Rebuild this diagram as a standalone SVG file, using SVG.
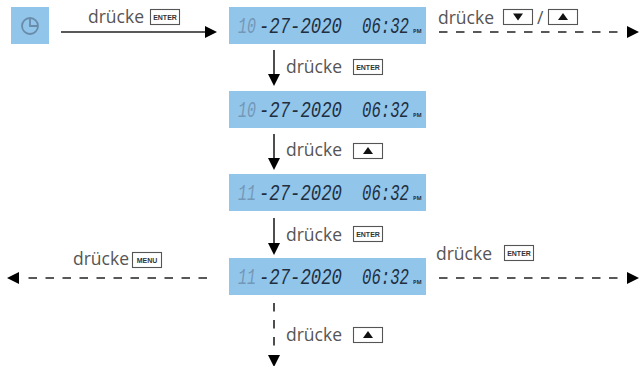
<svg xmlns="http://www.w3.org/2000/svg" width="639" height="366" viewBox="0 0 639 366">
<style>
text{font-family:"Open Sans","Noto Sans","Liberation Sans",sans-serif}
.lab{font-size:17.5px;fill:#555}
.k{fill:#fff;stroke:#555;stroke-width:1.1}
.kt{font-family:"Liberation Sans",sans-serif;font-size:7px;font-weight:700;fill:#333;text-anchor:middle}
.tri{fill:#111}
.lcd{fill:#92c5ea}
.d,.f{font-family:"Liberation Mono",monospace;font-size:22px;font-style:italic}
.d{fill:#1f2f3f}
.f{fill:#7397b6}
.pm{font-size:5.500px;font-weight:700;fill:#1f2f3f}
.s{fill:none;stroke:#222;stroke-width:1.6}
.da{stroke-dasharray:8.5 8.5}
.h{fill:#000}
</style>
<defs>
<g id="enter"><rect class="k" x="0.5" y="0.5" width="29" height="15"/><text class="kt" x="15" y="10.500">ENTER</text></g>
<g id="up"><rect class="k" x="0.5" y="0.5" width="29" height="15"/><path class="tri" d="M15 4L20 11H10Z"/></g>
<g id="down"><rect class="k" x="0.5" y="0.5" width="29" height="15"/><path class="tri" d="M15 11.500L20 4.500H10Z"/></g>
</defs>
<g id="connectors">
<path class="s" d="M61 32H206"/><path class="h" d="M205 26L217 32L205 38Z"/>
<path class="s da" d="M439 32H624"/><path class="h" d="M627 26L639 32L627 38Z"/>
<path class="s" d="M274 50V76"/><path class="h" d="M268 74L274 86L280 74Z"/>
<path class="s" d="M274 134V160"/><path class="h" d="M268 158L274 170L280 158Z"/>
<path class="s" d="M274 218V244"/><path class="h" d="M268 243L274 255L280 243Z"/>
<path class="s da" d="M274 303V350"/><path class="h" d="M268 355L274 367L280 355Z"/>
<path class="s da" d="M207 278H20"/><path class="h" d="M19 272L7 278L19 284Z"/>
<path class="s da" d="M439 278H624"/><path class="h" d="M627 272L639 278L627 284Z"/>
</g>
<g id="clock-node"><rect class="lcd" x="11" y="7" width="38" height="37"/><circle cx="30" cy="26" r="8" fill="none" stroke="#6a8cab" stroke-width="1.8"/><path d="M30 18V26H38" fill="none" stroke="#6a8cab" stroke-width="1.8"/></g>
<g id="lcd1"><rect class="lcd" x="229" y="7" width="197" height="37"/><text class="f" transform="translate(238 33) scale(.68 1)">10</text><text class="d" transform="translate(259 33) scale(.786 1)">-27-2020</text><text class="d" transform="translate(362 33) scale(.712 1)">06:32</text><text class="pm" x="413" y="33">PM</text></g>
<g id="lcd2"><rect class="lcd" x="229" y="91" width="197" height="37"/><text class="f" transform="translate(238 117) scale(.68 1)">10</text><text class="d" transform="translate(259 117) scale(.786 1)">-27-2020</text><text class="d" transform="translate(362 117) scale(.712 1)">06:32</text><text class="pm" x="413" y="117">PM</text></g>
<g id="lcd3"><rect class="lcd" x="229" y="174" width="197" height="37"/><text class="f" transform="translate(238 200) scale(.68 1)">11</text><text class="d" transform="translate(259 200) scale(.786 1)">-27-2020</text><text class="d" transform="translate(362 200) scale(.712 1)">06:32</text><text class="pm" x="413" y="200">PM</text></g>
<g id="lcd4"><rect class="lcd" x="229" y="258" width="197" height="37"/><text class="f" transform="translate(238 284) scale(.68 1)">11</text><text class="d" transform="translate(259 284) scale(.786 1)">-27-2020</text><text class="d" transform="translate(362 284) scale(.712 1)">06:32</text><text class="pm" x="413" y="284">PM</text></g>
<g id="label-1"><text class="lab" x="88" y="23">drücke</text><use href="#enter" x="150" y="9"/></g>
<g id="label-2"><text class="lab" x="286" y="73">drücke</text><use href="#enter" x="353" y="59"/></g>
<g id="label-3"><text class="lab" x="286" y="156">drücke</text><use href="#up" x="353" y="143"/></g>
<g id="label-4"><text class="lab" x="286" y="241">drücke</text><use href="#enter" x="353" y="226"/></g>
<g id="label-5"><text class="lab" x="286" y="341">drücke</text><use href="#up" x="353" y="327"/></g>
<g id="label-6"><text class="lab" x="438" y="24">drücke</text><use href="#down" x="503" y="9"/><text class="lab" x="537" y="24">/</text><use href="#up" x="548" y="9"/></g>
<g id="label-7"><text class="lab" x="436" y="260">drücke</text><use href="#enter" x="504" y="245"/></g>
<g id="label-8"><text class="lab" x="73" y="265">drücke</text><rect class="k" x="132.500" y="252.500" width="29" height="15"/><text class="kt" x="147" y="263">MENU</text></g>
</svg>
